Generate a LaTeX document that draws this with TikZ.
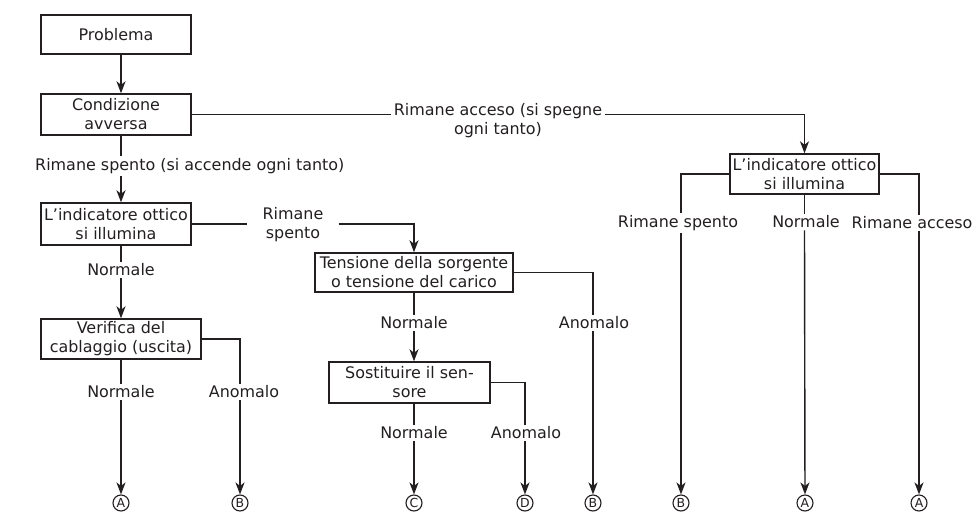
\documentclass[tikz,border=0pt]{standalone}
\usepackage{fontspec}
\setmainfont{DejaVu Sans}
\usetikzlibrary{arrows.meta}
\definecolor{ink}{HTML}{231F20}
\begin{document}
\begin{tikzpicture}[x=1bp,y=-1bp,
  every node/.style={text=ink, font=\fontsize{16}{19}\selectfont},
  box/.style={draw=ink, line width=1.4bp, align=center, inner sep=0pt},
  lbl/.style={align=center, inner xsep=3bp, inner ysep=2bp},
  conn/.style={draw=ink, line width=1.4bp},
  arr/.style={conn, -{Stealth[length=12bp,width=9bp,inset=3.5bp]}},
  circ/.style={circle, draw=ink, line width=1.1bp, minimum size=16bp, inner sep=0pt, font=\fontsize{12.5}{12.5}\selectfont}]
\useasboundingbox (0,0) rectangle (977,515);
% boxes
\node[box, minimum width=150bp, minimum height=39bp] (prob) at (116,34.5) {Problema};
\node[box, minimum width=150bp, minimum height=41bp] (cond) at (116,114.5) {Condizione\\avversa};
\node[box, minimum width=150bp, minimum height=42bp] (ind1) at (116,224) {L’indicatore ottico\\si illumina};
\node[box, minimum width=160bp, minimum height=40bp] (ver) at (121,339) {Verifica del\\cablaggio (uscita)};
\node[box, minimum width=149bp, minimum height=40bp] (ind2) at (804.5,174) {L’indicatore ottico\\si illumina};
\node[box, minimum width=198bp, minimum height=39bp] (ten) at (414,272.5) {Tensione della sorgente\\o tensione del carico};
\node[box, minimum width=161bp, minimum height=41bp] (sos) at (409.5,382.5) {Sostituire il sen-\\sore};
% labels
\node[lbl, anchor=west] (l1) at (32,166) {Rimane spento (si accende ogni tanto)};
\node[lbl] (l2) at (498,120.5) {Rimane acceso (si spegne\\ogni tanto)};
\node[lbl, inner xsep=15bp] (l3) at (293,224.5) {Rimane\\spento};
\node[lbl] (l4) at (121,270) {Normale};
\node[lbl] (l5) at (121,392) {Normale};
\node[lbl] (l6) at (244,392) {Anomalo};
\node[lbl] (l7) at (414,323) {Normale};
\node[lbl] (l8) at (594,323) {Anomalo};
\node[lbl] (l9) at (414,433) {Normale};
\node[lbl] (l10) at (526,433) {Anomalo};
\node[lbl] (l11) at (678,223) {Rimane spento};
\node[lbl] (l12) at (806,222) {Normale};
\node[lbl] (l13) at (912,223) {Rimane acceso};
% end circles
\node[circ] (cA1) at (121,503) {A};
\node[circ] (cB1) at (240,503) {B};
\node[circ] (cC) at (414,503) {C};
\node[circ] (cD) at (525,503) {D};
\node[circ] (cB2) at (593,503) {B};
\node[circ] (cB3) at (681,503) {B};
\node[circ] (cA3) at (805,503) {A};
\node[circ] (cA4) at (919,503) {A};
% columns
\coordinate (xL) at (121,0);
\coordinate (xM) at (414,0);
% connectors
\draw[arr] (prob.south -| xL) -- (cond.north -| xL);
\draw[conn] (cond.south -| xL) -- (l1.north -| xL);
\draw[arr] (l1.south -| xL) -- (ind1.north -| xL);
\draw[conn] (cond.east) -- (cond.east -| l2.west);
\draw[arr] (cond.east -| l2.east) -| (ind2.north);
\draw[conn] (ind1.south -| xL) -- (l4);
\draw[arr] (l4) -- (ver.north -| xL);
\draw[conn] (ind1.east) -- (ind1.east -| l3.west);
\draw[arr] (ind1.east -| l3.east) -| (ten.north);
\draw[conn] (ver.south -| xL) -- (l5);
\draw[arr] (l5) -- (cA1);
\draw[conn] (ver.east) -| (l6.north -| cB1);
\draw[arr] (l6.south -| cB1) -- (cB1);
\draw[conn] (ten.south) -- (l7);
\draw[arr] (l7) -- (sos.north -| xM);
\draw[conn] (ten.east) -| (l8.north -| cB2);
\draw[arr] (l8.south -| cB2) -- (cB2);
\draw[conn] (sos.south -| xM) -- (l9);
\draw[arr] (l9) -- (cC);
\draw[conn] (sos.east) -| (l10.north -| cD);
\draw[arr] (l10.south -| cD) -- (cD);
\draw[conn] (ind2.west) -| (l11.north -| cB3);
\draw[arr] (l11.south -| cB3) -- (cB3);
\draw[conn] (ind2.south) -- (ind2.south |- l12.north);
\draw[arr] (l12.south -| ind2.south) -- (cA3);
\draw[conn] (ind2.east) -| (l13.north -| cA4);
\draw[arr] (l13.south -| cA4) -- (cA4);
\end{tikzpicture}
\end{document}
